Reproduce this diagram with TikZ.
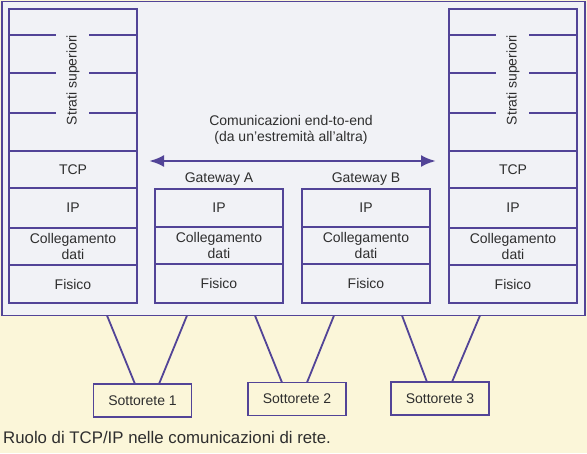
\documentclass[tikz,border=0pt]{standalone}
\usepackage{fontspec}
\setmainfont{Liberation Sans}
\usetikzlibrary{positioning,arrows.meta}
\definecolor{linea}{HTML}{524497}
\definecolor{fondo}{HTML}{FBF6D9}
\definecolor{interno}{HTML}{F1F2F6}
\definecolor{testo}{HTML}{2E2E2E}
\tikzset{
  strato/.style={draw=linea, line width=1.8pt, minimum width=128pt, minimum height=38pt,
    inner sep=0pt, outer sep=0pt, align=center, text=testo, font=\fontsize{14}{16.5}\selectfont},
  sottorete/.style={draw=linea, line width=1.8pt, minimum width=98pt, minimum height=33pt,
    inner sep=0pt, outer sep=0pt, text=testo, font=\fontsize{14}{16.5}\selectfont},
  filo/.style={draw=linea, line width=1.8pt},
  scritta/.style={text=testo, font=\fontsize{14}{16.5}\selectfont, align=center},
}

\begin{document}
\begin{tikzpicture}[x=1pt,y=-1pt]
\fill[fondo] (0,0) rectangle (587,453);
\node[draw=linea, line width=1.8pt, fill=interno, minimum width=583pt, minimum height=314pt,
  inner sep=0pt, outer sep=0pt, anchor=north west] (rete) at (2,1.5) {};

% host di sinistra
\node[strato, minimum height=142pt, anchor=north west] (sup1) at (9,9) {};
\node[strato, minimum height=37pt, below=0pt of sup1] (tcp1) {TCP};
\node[strato, minimum height=40pt, below=0pt of tcp1] (ip1) {IP};
\node[strato, minimum height=37pt, below=0pt of ip1] (dl1) {Collegamento\\dati};
\node[strato, below=0pt of dl1] (fis1) {Fisico};

% host di destra
\node[strato, minimum height=142pt, anchor=north west] (sup2) at (449,9) {};
\node[strato, minimum height=37pt, below=0pt of sup2] (tcp2) {TCP};
\node[strato, minimum height=40pt, below=0pt of tcp2] (ip2) {IP};
\node[strato, minimum height=37pt, below=0pt of ip2] (dl2) {Collegamento\\dati};
\node[strato, below=0pt of dl2] (fis2) {Fisico};

\foreach \s in {1,2} {
  \node[scritta, rotate=90] at (sup\s.center) {Strati superiori};
  \foreach \d in {26,64,104}
    \draw[filo] ([yshift=-\d pt]sup\s.north west) -- ++(47,0)
                ([yshift=-\d pt]sup\s.north east) -- ++(-48,0);
}

% gateway
\node[strato, anchor=north west] (ipA) at (155,189) {IP};
\node[strato, minimum height=37pt, below=0pt of ipA] (dlA) {Collegamento\\dati};
\node[strato, minimum height=39pt, below=0pt of dlA] (fisA) {Fisico};
\node[scritta, above=0pt of ipA] (gwA) {Gateway A};

\node[strato, anchor=north west] (ipB) at (302,189) {IP};
\node[strato, minimum height=37pt, below=0pt of ipB] (dlB) {Collegamento\\dati};
\node[strato, minimum height=39pt, below=0pt of dlB] (fisB) {Fisico};
\node[scritta, above=0pt of ipB] (gwB) {Gateway B};

% end-to-end
\coordinate (capoS) at (149,161);
\coordinate (capoD) at (436,161);
\draw[filo, line width=2.8pt, {Latex[length=15pt,width=12pt]}-{Latex[length=15pt,width=12pt]}] (capoS) -- (capoD);
\node[scritta] (e2e) at (291,130) {Comunicazioni end-to-end\\(da un'estremità all'altra)};

% sottoreti
\node[sottorete] (sub1) at (142.5,400.5) {Sottorete 1};
\node[sottorete] (sub2) at (297,399) {Sottorete 2};
\node[sottorete] (sub3) at (440,398.5) {Sottorete 3};
\foreach \n/\a/\b/\c/\d in {1/107/135/187/159, 2/255/282/334/307, 3/402/427/480/452}
  \draw[filo] (rete.south -| \a,0) -- (sub\n.north -| \b,0)
              (rete.south -| \c,0) -- (sub\n.north -| \d,0);

\node[text=testo, font=\fontsize{16.8}{20}\selectfont, anchor=west, inner sep=0pt] (didascalia) at (3,437)
  {Ruolo di TCP/IP nelle comunicazioni di rete.};
\end{tikzpicture}
\end{document}
